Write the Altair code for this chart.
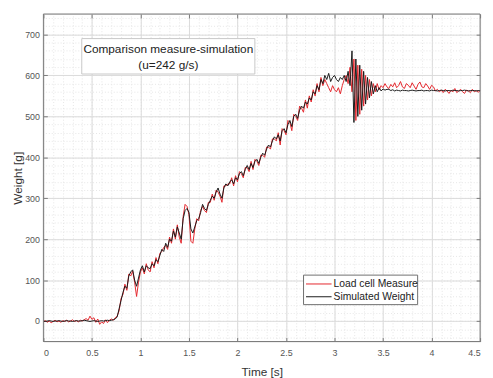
import altair as alt
import pandas as pd

STEP = 0.02
SERIES = ["Load cell Measure", "Simulated Weight"]
COLORS = ["#e3262c", "#1a1a1a"]

# Load cell measurement (red), sampled every 0.02 s from t = 0
MEASURE = [
    -2, 1, -3, 0, -4, -1, 2, -2, 0, -3,
    1, -1, 2, -2, 0, 3, -1, 1, -2, 2,
    0, 3, 6, 2, 12, 4, 8, -3, 5, -8,
    -2, -6, 3, -4, 2, 5, 2, 8,
    12, 25, 55, 65, 90, 75, 115, 110, 122, 95,
    60, 95, 120, 130, 115, 140, 125, 120, 145, 130,
    155, 140, 165, 170, 180, 185, 175, 205, 190, 225,
    200, 235, 205, 190, 255, 285, 280, 260, 195, 190,
    225, 250, 245, 270, 280, 270, 265, 290, 290, 310,
    295, 320, 315, 305, 290, 330, 330, 335, 335, 350,
    330, 355, 340, 365, 360, 350, 375, 375, 365, 390,
    370, 395, 390, 380, 405, 405, 400, 425, 425, 420,
    445, 445, 440, 460, 430, 470, 465, 455, 490, 485,
    465, 505, 500, 490, 525, 520, 510, 540, 520, 550,
    535, 565, 550, 580, 560, 595, 575, 590, 580, 570,
    560, 575, 565, 560, 570, 555, 575, 590, 600, 580,
    620, 560, 640, 490, 625, 505, 615, 525, 600, 540,
    590, 550, 580, 560, 580, 565, 575, 570, 580, 572,
    568, 578, 572, 582, 570, 575, 585, 572, 568, 580,
    576, 570, 582, 574, 566, 578, 584, 572, 570, 580,
    574, 566, 576, 572, 562, 566, 560, 564, 558, 566,
    562, 556, 564, 560, 568, 558, 562, 566, 560, 556,
    564, 562, 558, 566, 560, 563, 559, 562,
]

# Simulated weight (black), same sampling
SIMULATED = [
    0, -1, 0, 1, 0, -1, 0, 0, 1, 0,
    -1, 0, 1, 0, 0, -1, 0, 1, 0, 0,
    1, 2, 1, 0, -1, 0, 1, 0, -1, 0,
    1, 0, 1, 2, 1, 2, 3, 5,
    10, 30, 50, 70, 85, 80, 110, 120, 125, 100,
    85, 105, 125, 135, 120, 135, 130, 128, 140, 135,
    150, 145, 160, 175, 170, 190, 180, 200, 195, 220,
    205, 230, 215, 200, 250, 270, 275, 265, 225, 215,
    230, 245, 250, 265, 285, 275, 270, 285, 295, 305,
    300, 315, 325, 310, 300, 325, 335, 330, 340, 345,
    335, 350, 345, 360, 365, 355, 370, 380, 370, 385,
    375, 390, 395, 385, 400, 410, 405, 420, 430, 425,
    440, 450, 445, 455, 440, 465, 470, 460, 480, 490,
    475, 500, 505, 495, 515, 525, 520, 535, 530, 545,
    540, 560, 555, 575, 565, 590, 580, 600, 590, 605,
    585, 595, 600, 590, 585, 595, 590, 600, 585, 610,
    575, 660, 485, 640, 500, 625, 515, 610, 530, 595,
    545, 585, 555, 575, 560, 570, 562, 567, 564, 566,
    566, 563, 565, 562, 564, 563, 562, 564, 563, 563,
    562, 563, 564, 563, 562, 563, 563, 564, 562, 563,
    563, 562, 564, 563, 563, 562, 563, 564, 563, 562,
    563, 563, 562, 564, 563, 563, 562, 563, 563, 564,
    563, 562, 563, 563, 563, 562, 563, 563,
]

X_TICKS = [0, 0.5, 1, 1.5, 2, 2.5, 3, 3.5, 4, 4.5]
X_MINOR = [round(i * 0.1, 1) for i in range(46)]
Y_TICKS = [0, 100, 200, 300, 400, 500, 600, 700]
Y_MINOR = list(range(-40, 750, 20))
X_TITLE = "Time [s]"
Y_TITLE = "Weight [g]"
NOTE = ["Comparison measure-simulation", "(u=242 g/s)"]

rows = []
for name, vals in zip(SERIES, [MEASURE, SIMULATED]):
    for i, v in enumerate(vals):
        rows.append({"t": round(i * STEP, 2), "w": v, "series": name})
df = pd.DataFrame(rows)

W, H = 444, 333
FONT = "Liberation Sans"
FRAME = "#7a7a7a"
MAJOR_GRID = "#dadada"
MINOR_GRID = "#e6e6e6"

xs = alt.Scale(domain=[0, 4.5], nice=False, zero=False)
ys = alt.Scale(domain=[-50, 750], nice=False, zero=False)


def bare_axis(orient, values, **kw):
    return alt.Axis(orient=orient, values=values, labels=False, title="",
                    domain=False, **kw)


minor = alt.Chart(df).mark_line(strokeOpacity=0).encode(
    x=alt.X("t:Q", scale=xs, axis=bare_axis("top", X_MINOR, ticks=False, grid=True,
                                            gridColor=MINOR_GRID, gridDash=[1, 2])),
    y=alt.Y("w:Q", scale=ys, axis=bare_axis("right", Y_MINOR, ticks=False, grid=True,
                                            gridColor=MINOR_GRID, gridDash=[1, 2])),
)

ticks_bl = alt.Chart(df).mark_line(strokeOpacity=0).encode(
    x=alt.X("t:Q", scale=xs, axis=bare_axis("bottom", X_TICKS, grid=False, ticks=True,
                                            tickSize=4, tickColor=FRAME, offset=-4)),
    y=alt.Y("w:Q", scale=ys, axis=bare_axis("left", Y_TICKS, grid=False, ticks=True,
                                            tickSize=4, tickColor=FRAME, offset=-4)),
)

ticks_tr = alt.Chart(df).mark_line(strokeOpacity=0).encode(
    x=alt.X("t:Q", scale=xs, axis=bare_axis("top", X_TICKS, grid=False, ticks=True,
                                            tickSize=4, tickColor=FRAME, offset=-4)),
    y=alt.Y("w:Q", scale=ys, axis=bare_axis("right", Y_TICKS, grid=False, ticks=True,
                                            tickSize=4, tickColor=FRAME, offset=-4)),
)

lines = alt.Chart(df).mark_line(strokeWidth=1).encode(
    x=alt.X("t:Q", scale=xs, axis=alt.Axis(
        orient="bottom", values=X_TICKS, format="~g", title=X_TITLE, grid=True,
        gridColor=MAJOR_GRID, ticks=False, tickSize=0, domain=False,
        labelFontSize=9, labelColor="#555555", labelPadding=7,
        titleFontSize=12, titleFontWeight="normal", titleColor="#333333",
        titlePadding=10)),
    y=alt.Y("w:Q", scale=ys, axis=alt.Axis(
        orient="left", values=Y_TICKS, format="d", title=Y_TITLE, grid=True,
        gridColor=MAJOR_GRID, ticks=False, tickSize=0, domain=False,
        labelFontSize=9, labelColor="#555555", labelPadding=4,
        titleFontSize=12, titleFontWeight="normal", titleColor="#333333",
        titleX=-26, titleY=H / 2, titleAngle=270, titleAlign="center",
        titleBaseline="middle")),
    color=alt.Color("series:N", scale=alt.Scale(domain=SERIES, range=COLORS), legend=None),
)

one = pd.DataFrame({"k": [0]})

frame = alt.Chart(one).mark_rect(fillOpacity=0, stroke=FRAME, strokeWidth=1).encode(
    x=alt.value(0), x2=alt.value(W), y=alt.value(0), y2=alt.value(H))

note_box = alt.Chart(one).mark_rect(fill="white", stroke="#c8c8c8", strokeWidth=1).encode(
    x=alt.value(39), x2=alt.value(215), y=alt.value(25), y2=alt.value(61))

note_layers = []
for i, line in enumerate(NOTE):
    note_layers.append(
        alt.Chart(pd.DataFrame({"label": [line]})).mark_text(
            fontSize=12, color="#222222", baseline="middle", align="center", font=FONT
        ).encode(text="label:N", x=alt.value(127), y=alt.value(36 + 15.5 * i))
    )

legend_box = alt.Chart(one).mark_rect(fill="white", stroke="#6e6e6e", strokeWidth=1).encode(
    x=alt.value(264.5), x2=alt.value(380.5), y=alt.value(265.5), y2=alt.value(295.5))

legend_layers = []
for i, (name, col) in enumerate(zip(SERIES, COLORS)):
    ly = 274.5 + 13 * i
    legend_layers.append(
        alt.Chart(one).mark_rule(color=col, strokeWidth=1).encode(
            x=alt.value(267), x2=alt.value(293), y=alt.value(ly)))
    legend_layers.append(
        alt.Chart(pd.DataFrame({"label": [name]})).mark_text(
            fontSize=10.5, color="#222222", baseline="middle", align="left", font=FONT
        ).encode(text="label:N", x=alt.value(295), y=alt.value(ly)))

chart = alt.layer(
    minor, ticks_bl, ticks_tr, lines, frame, note_box, *note_layers,
    legend_box, *legend_layers
).resolve_axis(x="independent", y="independent").properties(
    width=W, height=H,
    autosize=alt.AutoSizeParams(type="none"),
    padding={"left": 36, "top": 3, "right": 5, "bottom": 34},
    background="white",
).configure_view(stroke="transparent").configure(font=FONT)

chart.save("out.html", embed_options={"renderer": "svg", "actions": False})
